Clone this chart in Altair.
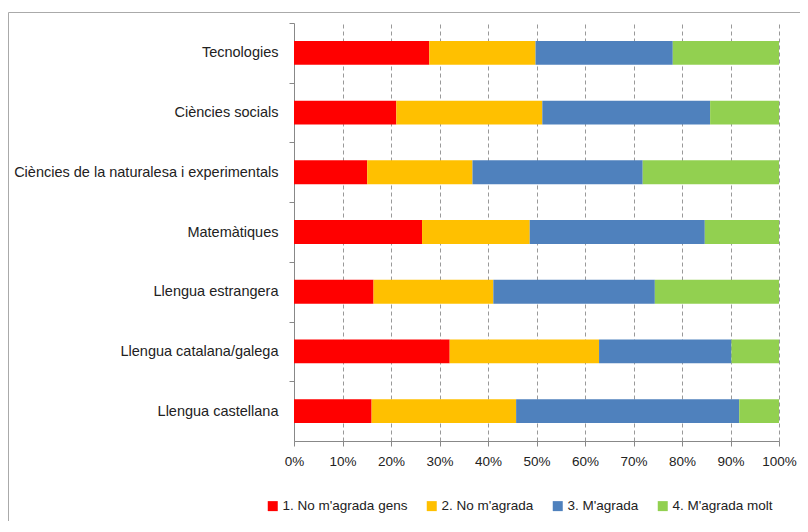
import altair as alt
import pandas as pd

categories = [
    "Tecnologies",
    "Ciències socials",
    "Ciències de la naturalesa i experimentals",
    "Matemàtiques",
    "Llengua estrangera",
    "Llengua catalana/galega",
    "Llengua castellana",
]
series = ["1. No m'agrada gens", "2. No m'agrada", "3. M'agrada", "4. M'agrada molt"]
colors = ["#FF0000", "#FFC000", "#4F81BD", "#92D050"]

no_gens = [27.9, 21.1, 15.1, 26.4, 16.4, 32.1, 16.0]
no_agrada = [21.9, 30.1, 21.7, 22.2, 24.7, 30.8, 29.8]
agrada = [28.3, 34.6, 35.1, 36.1, 33.3, 27.3, 46.0]
molt = [21.9, 14.2, 28.1, 15.3, 25.6, 9.8, 8.2]
x_ticks = [0, 0.1, 0.2, 0.3, 0.4, 0.5, 0.6, 0.7, 0.8, 0.9, 1.0]

rows = []
for vals, s_idx in zip([no_gens, no_agrada, agrada, molt], range(4)):
    for c, v in zip(categories, vals):
        rows.append({"cat": c, "serie": series[s_idx], "ord": s_idx, "val": v})
df = pd.DataFrame(rows)

FONT = "Liberation Sans"
W, H = 485, 418
step = H / len(categories)

bars = alt.Chart(df).mark_bar().encode(
    y=alt.Y("cat:N", sort=categories,
            scale=alt.Scale(paddingInner=0.6, paddingOuter=0.3),
            axis=alt.Axis(title=None, labelFontSize=14.5, labelFont=FONT, labelColor="#222",
                          labelPadding=11, tickSize=5, tickColor="#888", domainColor="#888",
                          tickOffset=-step / 2, labelOffset=step / 2, labelLimit=400)),
    x=alt.X("val:Q", stack="normalize",
            scale=alt.Scale(domain=[0, 1], nice=False),
            axis=alt.Axis(title=None, format="%", values=x_ticks, labelFontSize=13.5, labelFont=FONT,
                          labelColor="#222", tickSize=5, tickColor="#888", domainColor="#888",
                          labelPadding=8, grid=True, gridColor="#999", gridDash=[4, 3],
                          labelFlush=False)),
    color=alt.Color("serie:N", scale=alt.Scale(domain=series, range=colors),
                    legend=alt.Legend(title=None, orient="none", direction="horizontal",
                                      legendX=-28, legendY=476, symbolType="square",
                                      symbolSize=100, symbolStrokeWidth=0, labelFontSize=13.5,
                                      labelFont=FONT, labelColor="#222", labelOffset=3,
                                      columnPadding=17)),
    order=alt.Order("ord:Q"),
)

frame = alt.Chart(alt.Data(values=[{}])).mark_rect(fill=None, stroke="#aaa", strokeWidth=1).encode(
    x=alt.value(-285.5), x2=alt.value(520), y=alt.value(-10.5), y2=alt.value(600)
)

chart = alt.layer(frame, bars).properties(
    width=W, height=H,
    padding={"left": 286, "top": 15, "right": 21, "bottom": 80},
    autosize=alt.AutoSizeParams(type="none"),
).configure_view(stroke=None)

chart.save("out.html", embed_options={"renderer": "svg", "actions": False})
